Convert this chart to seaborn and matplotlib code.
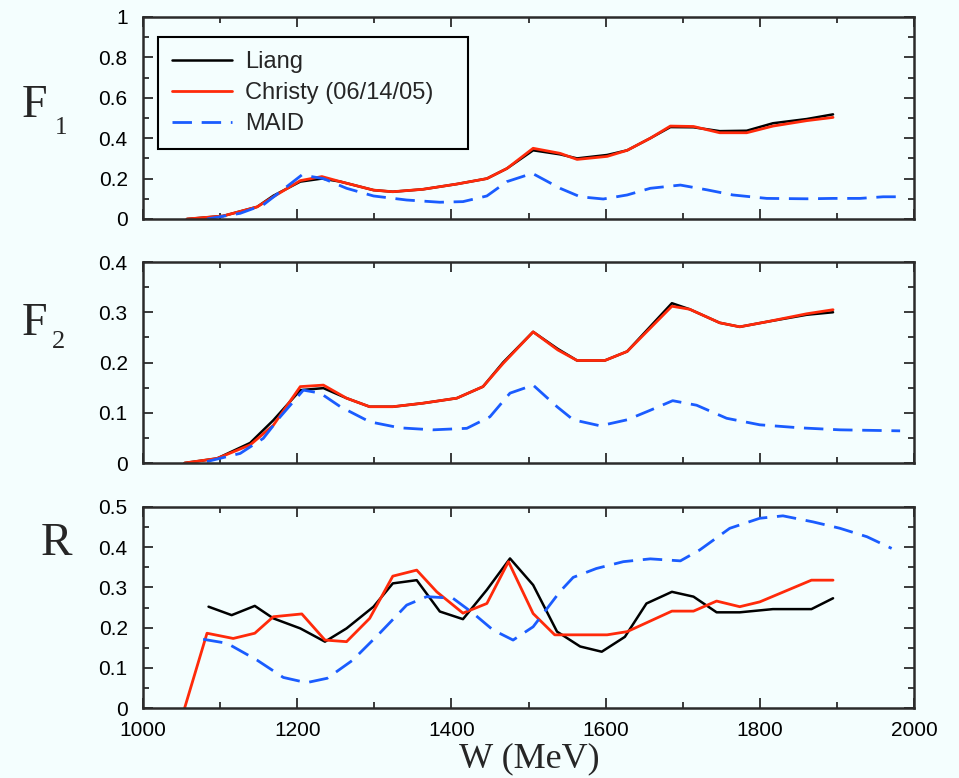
import numpy as np
import pandas as pd
import seaborn as sns
import matplotlib
matplotlib.use("Agg")
import matplotlib.pyplot as plt
from matplotlib.ticker import MultipleLocator, FormatStrFormatter

# ---------------- data (W in MeV) ----------------
W_liang_f1 = [1057, 1104, 1148, 1169, 1204, 1232, 1256, 1299, 1324, 1363, 1407, 1446, 1472,
              1506, 1541, 1563, 1602, 1628, 1658, 1684, 1714, 1748, 1783, 1817, 1861, 1895]
F1_liang = [0.0, 0.015, 0.06, 0.115, 0.185, 0.20, 0.185, 0.143, 0.135, 0.147, 0.173, 0.20, 0.25,
            0.34, 0.32, 0.30, 0.317, 0.34, 0.40, 0.455, 0.454, 0.435, 0.437, 0.474, 0.495, 0.518]
F1_christy = [0.0, 0.015, 0.06, 0.11, 0.19, 0.21, 0.185, 0.143, 0.135, 0.147, 0.173, 0.20, 0.25,
              0.35, 0.325, 0.295, 0.31, 0.34, 0.40, 0.46, 0.458, 0.427, 0.427, 0.46, 0.487, 0.503]
W_maid_f1 = [1083, 1126, 1156, 1178, 1206, 1234, 1264, 1299, 1342, 1385, 1415, 1446, 1472, 1505,
             1541, 1567, 1597, 1628, 1658, 1697, 1732, 1765, 1809, 1861, 1895, 1930, 1960, 1982]
F1_maid = [0.0, 0.028, 0.07, 0.135, 0.218, 0.20, 0.152, 0.114, 0.094, 0.083, 0.086, 0.114, 0.185,
           0.226, 0.152, 0.11, 0.099, 0.119, 0.152, 0.168, 0.144, 0.119, 0.102, 0.10, 0.102,
           0.102, 0.11, 0.11]

W_f2 = [1054, 1096, 1139, 1169, 1204, 1234, 1264, 1294, 1324, 1363, 1407, 1441, 1467, 1506,
        1538, 1563, 1599, 1628, 1686, 1709, 1748, 1774, 1809, 1861, 1895]
F2_liang = [0.0, 0.009, 0.04, 0.085, 0.145, 0.149, 0.129, 0.112, 0.112, 0.119, 0.129, 0.152, 0.20,
            0.261, 0.227, 0.204, 0.204, 0.222, 0.318, 0.306, 0.279, 0.271, 0.281, 0.295, 0.30]
F2_christy = [0.0, 0.009, 0.036, 0.075, 0.152, 0.155, 0.129, 0.112, 0.112, 0.119, 0.129, 0.152, 0.198,
              0.261, 0.225, 0.204, 0.204, 0.222, 0.312, 0.306, 0.279, 0.271, 0.281, 0.297, 0.305]
W_maid_f2 = [1083, 1126, 1156, 1178, 1208, 1230, 1256, 1294, 1333, 1376, 1420, 1450, 1476, 1506,
             1537, 1558, 1593, 1628, 1658, 1687, 1718, 1757, 1800, 1852, 1904, 1982]
F2_maid = [0.003, 0.019, 0.049, 0.092, 0.145, 0.139, 0.112, 0.082, 0.070, 0.066, 0.069, 0.092, 0.139,
           0.155, 0.112, 0.086, 0.074, 0.086, 0.105, 0.124, 0.115, 0.089, 0.076, 0.070, 0.066, 0.064]

W_liang_r = [1085, 1115, 1145, 1169, 1204, 1236, 1264, 1299, 1324, 1355, 1385, 1415, 1446, 1476,
             1506, 1537, 1567, 1595, 1625, 1653, 1686, 1714, 1744, 1774, 1817, 1867, 1895]
R_liang = [0.252, 0.231, 0.254, 0.223, 0.198, 0.165, 0.198, 0.252, 0.31, 0.318, 0.24, 0.221, 0.294,
           0.372, 0.306, 0.19, 0.153, 0.14, 0.177, 0.26, 0.289, 0.277, 0.238, 0.238, 0.246, 0.246, 0.273]
W_christy_r = [1054, 1083, 1117, 1145, 1169, 1206, 1236, 1264, 1294, 1324, 1355, 1381, 1415, 1446,
               1474, 1506, 1534, 1602, 1628, 1686, 1714, 1744, 1774, 1800, 1867, 1895]
R_christy = [0.0, 0.186, 0.173, 0.186, 0.227, 0.234, 0.169, 0.165, 0.223, 0.328, 0.343, 0.289, 0.236,
             0.26, 0.364, 0.235, 0.182, 0.182, 0.19, 0.241, 0.241, 0.266, 0.252, 0.264, 0.318, 0.318]
W_maid_r = [1078, 1109, 1148, 1182, 1212, 1239, 1272, 1307, 1342, 1368, 1402, 1428, 1454, 1480,
            1506, 1541, 1558, 1588, 1623, 1658, 1697, 1722, 1761, 1800, 1830, 1869, 1904, 1939, 1971]
R_maid = [0.171, 0.161, 0.119, 0.076, 0.063, 0.074, 0.119, 0.186, 0.256, 0.277, 0.273, 0.236, 0.194,
          0.169, 0.202, 0.29, 0.325, 0.347, 0.364, 0.371, 0.366, 0.393, 0.447, 0.472, 0.478, 0.463,
          0.447, 0.426, 0.397]

series_names = ["Liang", "Christy (06/14/05)", "MAID"]
x_ticks = [1000, 1200, 1400, 1600, 1800, 2000]

# ---------------- style ----------------
sns.set_theme(style="ticks")
BG = "#f4fefe"
plt.rcParams.update({
    "font.family": ["Liberation Sans", "DejaVu Sans"],
    "axes.edgecolor": "#2b2b2b",
    "axes.linewidth": 1.8,
    "figure.facecolor": BG,
    "axes.facecolor": BG,
})

BLACK, RED, BLUE = "#000000", "#ff2a0a", "#1a5cff"

W, H = 959, 778
fig = plt.figure(figsize=(W / 100, H / 100), dpi=100)


def px_axes(left, top, right, bottom):
    return fig.add_axes([left / W, 1 - bottom / H, (right - left) / W, (bottom - top) / H])


ax1 = px_axes(143, 17, 914, 219)
ax2 = px_axes(143, 262, 914, 463)
ax3 = px_axes(143, 507, 914, 708)


def draw(ax, wl, yl, wc, yc, wm, ym):
    sns.lineplot(x=wl, y=yl, ax=ax, color=BLACK, lw=1.8, label=series_names[0])
    sns.lineplot(x=wc, y=yc, ax=ax, color=RED, lw=2.0, label=series_names[1])
    sns.lineplot(x=wm, y=ym, ax=ax, color=BLUE, lw=2.0, label=series_names[2])
    ax.lines[-1].set_dashes([7, 3.5])


draw(ax1, W_liang_f1, F1_liang, W_liang_f1, F1_christy, W_maid_f1, F1_maid)
draw(ax2, W_f2, F2_liang, W_f2, F2_christy, W_maid_f2, F2_maid)
draw(ax3, W_liang_r, R_liang, W_christy_r, R_christy, W_maid_r, R_maid)

limits = [(1.0, 0.2, 0.1), (0.4, 0.1, 0.05), (0.5, 0.1, 0.05)]
for ax, (ymax, maj, mnr) in zip([ax1, ax2, ax3], limits):
    ax.set_xlim(1000, 2000)
    ax.set_ylim(0, ymax)
    ax.set_xlabel("")
    ax.set_ylabel("")
    ax.set_xticks(x_ticks)
    ax.xaxis.set_minor_locator(MultipleLocator(100))
    ax.yaxis.set_major_locator(MultipleLocator(maj))
    ax.yaxis.set_minor_locator(MultipleLocator(mnr))
    ax.yaxis.set_major_formatter(FormatStrFormatter("%g"))
    ax.tick_params(which="both", direction="in", top=True, right=True,
                   color="#2b2b2b", width=1.3, labelsize=15, labelcolor="black")
    ax.tick_params(which="major", length=7, pad=11)
    ax.tick_params(which="minor", length=4)
    for s in ax.spines.values():
        s.set_visible(True)
        s.set_zorder(5)
    if ax is not ax3:
        ax.tick_params(labelbottom=False)
        ax.get_legend().remove()

ax3.get_legend().remove()
ax3.tick_params(axis="x", pad=9)

# legend in the top panel
leg = ax1.legend(loc="upper left", bbox_to_anchor=(0.0195, 0.901, 0.402, 0.0),
                 mode="expand", borderaxespad=0, fontsize=17, frameon=True, fancybox=False,
                 handlelength=2.55, handletextpad=0.55, labelspacing=0.38, borderpad=0.6)
leg.get_frame().set_edgecolor("black")
leg.get_frame().set_linewidth(1.5)
leg.get_frame().set_facecolor(BG)
leg.get_frame().set_alpha(1)
leg.get_lines()[2].set_dashes([7, 3.5])

# panel labels
serif = ["Liberation Serif", "DejaVu Serif"]


def ftext(x, y, s, size):
    fig.text(x / W, 1 - y / H, s, fontsize=size, family=serif, ha="left", va="baseline")


ftext(22, 117, "F", 33)
ftext(55, 134, "1", 18)
ftext(22, 335, "F", 33)
ftext(52, 348, "2", 19)
ftext(41, 555, "R", 34)
fig.text(529 / W, 1 - 767 / H, "W (MeV)", fontsize=26, family=serif, ha="center", va="baseline")

fig.savefig("out.png", dpi=100, facecolor=BG)
